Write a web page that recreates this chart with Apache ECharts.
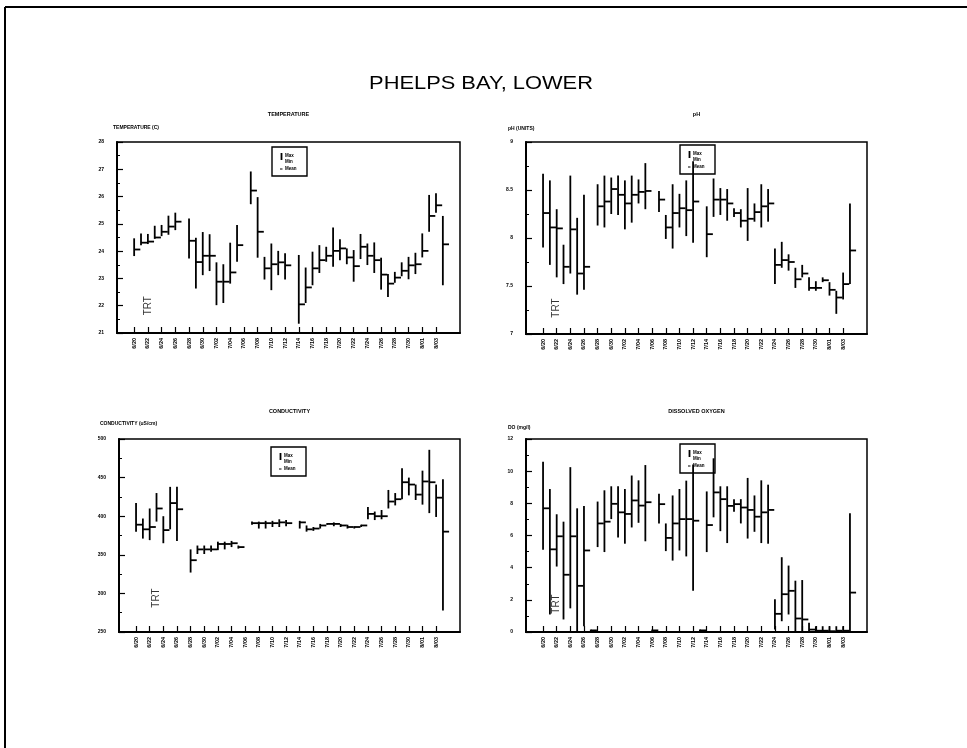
<!DOCTYPE html>
<html>
<head>
<meta charset="utf-8">
<script src="https://cdn.jsdelivr.net/npm/echarts@6/dist/echarts.min.js"></script>
<style>
  html, body { margin: 0; padding: 0; background: #fff; }
  #chart { width: 967px; height: 748px; }
</style>
</head>
<body>
<div id="chart"></div>
<script>
// Daily water-quality summaries (max / min / mean) at Phelps Bay, lower station.
const FONT = '"Liberation Sans", Arial, Helvetica, sans-serif';

// Sampling days, 6/20 through 8/04
const dates = [
  '6/20','6/21','6/22','6/23','6/24','6/25','6/26','6/27','6/28','6/29','6/30',
  '7/01','7/02','7/03','7/04','7/05','7/06','7/07','7/08','7/09','7/10','7/11',
  '7/12','7/13','7/14','7/15','7/16','7/17','7/18','7/19','7/20','7/21','7/22',
  '7/23','7/24','7/25','7/26','7/27','7/28','7/29','7/30','7/31','8/01','8/02',
  '8/03','8/04'
];

// Dates printed under each panel
const tickLabels = [
  '6/20','6/22','6/24','6/26','6/28','6/30','7/02','7/04','7/06','7/08','7/10',
  '7/12','7/14','7/16','7/18','7/20','7/22','7/24','7/26','7/28','7/30','8/01','8/03'
];

// Temperature (C)
const tempMax = [24.47,24.65,24.63,24.93,24.96,25.30,25.41,null,25.20,24.49,24.70,
  24.62,23.59,23.52,24.31,24.96,null,26.92,25.98,23.79,24.28,24.01,
  23.92,null,23.86,23.40,23.98,24.22,24.16,24.87,24.44,24.10,24.04,
  24.63,24.28,24.32,23.76,23.16,23.24,23.59,23.79,23.94,24.65,26.06,
  26.12,25.29];
const tempMin = [23.82,24.22,24.26,24.45,24.55,24.60,24.77,null,23.73,22.63,23.12,
  23.27,22.02,22.10,22.81,23.61,null,25.72,23.76,22.96,22.57,23.12,
  22.96,null,21.34,22.10,22.75,23.20,23.61,23.43,23.67,23.52,22.88,
  23.71,23.49,23.20,22.59,22.32,22.84,23.08,22.97,23.16,23.77,24.71,
  25.41,22.75];
const tempMean = [24.06,24.31,24.35,24.50,24.71,24.90,25.08,null,24.38,23.60,23.83,
  23.83,22.88,22.88,23.22,24.22,null,26.22,24.71,23.37,23.52,23.59,
  23.48,null,22.05,22.67,23.37,23.67,23.83,24.01,24.10,23.77,23.45,
  24.16,23.83,23.67,23.14,22.81,23.03,23.28,23.48,23.52,24.01,25.29,
  25.68,24.25];

// pH (units)
const phMax = [8.67,8.60,8.30,7.93,8.65,8.21,8.45,null,8.56,8.65,8.63,
  8.65,8.60,8.65,8.61,8.78,null,8.49,8.24,8.56,8.46,8.60,
  8.80,null,8.33,8.62,8.52,8.51,8.31,8.30,8.52,8.36,8.56,
  8.51,7.89,7.96,7.83,7.69,7.72,7.59,7.55,7.59,7.54,7.45,
  7.64,8.36];
const phMin = [7.90,7.72,7.59,7.52,7.63,7.41,7.46,null,8.13,8.11,8.25,
  8.24,8.09,8.16,8.36,8.30,null,8.27,7.99,7.89,8.11,8.02,
  7.95,null,7.80,8.22,8.24,8.18,8.22,8.11,7.97,8.17,8.11,
  8.17,7.52,7.69,7.66,7.48,7.59,7.45,7.45,7.54,7.40,7.21,
  7.36,7.52];
const phMean = [8.26,8.11,8.10,7.70,8.09,7.63,7.70,null,8.33,8.38,8.51,
  8.45,8.36,8.45,8.48,8.49,null,8.40,8.11,8.26,8.31,8.29,
  8.38,null,8.04,8.40,8.40,8.36,8.26,8.18,8.20,8.27,8.33,
  8.36,7.72,7.77,7.75,7.57,7.63,7.48,7.48,7.56,7.46,7.38,
  7.52,7.87];

// Conductivity (uS/cm)
const condMax = [417,397,410,430,400,438,438,null,357,362,362,
  362,367,367,368,362,null,393,393,394,394,396,
  395,null,394,388,386,390,391,392,390,389,387,
  389,412,406,408,434,430,462,450,441,459,486,
  441,448];
const condMin = [380,371,369,393,365,383,368,null,327,351,351,
  354,356,357,360,358,null,389,384,384,386,386,
  387,null,384,380,381,384,389,387,386,384,384,
  386,396,395,396,410,414,422,427,421,415,404,
  399,278];
const condMean = [389,383,386,410,382,417,409,null,343,357,357,
  357,364,364,365,360,null,391,391,391,391,392,
  391,null,392,383,384,388,390,390,388,386,386,
  388,403,400,400,419,422,444,441,428,445,444,
  424,380];

// Dissolved oxygen (mg/l)
const doMax = [10.59,8.89,7.32,6.86,10.25,7.69,7.84,0.15,8.11,8.81,9.06,
  9.06,8.89,9.73,9.43,10.38,0.15,8.60,6.75,8.49,8.89,9.41,
  10.42,0.15,8.74,10.80,9.06,9.06,8.26,8.26,9.58,8.49,9.43,
  9.16,2.03,4.65,4.13,3.19,3.23,0.57,0.36,0.36,0.36,0.36,
  0.36,7.38];
const doMin = [5.11,1.09,4.07,0.78,1.47,0.00,0.36,0.00,5.28,4.97,7.02,
  5.87,5.49,6.50,6.79,5.64,0.00,6.75,5.03,4.44,5.07,4.70,
  2.56,0.00,4.97,7.13,6.27,5.53,7.48,6.75,5.81,6.23,5.53,
  5.49,0.15,0.67,1.09,0.00,0.00,0.00,0.00,0.00,0.00,0.00,
  0.00,0.00];
const doMean = [7.69,5.14,5.95,3.56,5.95,2.87,5.07,0.10,6.75,6.86,7.97,
  7.44,7.34,8.18,7.86,8.07,0.10,7.95,5.85,6.75,7.02,7.02,
  6.92,0.10,6.65,8.68,8.26,7.84,7.95,7.74,7.59,7.17,7.44,
  7.59,1.13,2.35,2.56,0.84,0.78,0.15,0.08,0.08,0.05,0.08,
  0.08,2.45];

// Category axis: one slot per day, with two spare days on each side
const axisDays = [];
[[6, 18, 30], [7, 1, 31], [8, 1, 6]].forEach(([m, a, b]) => {
  for (let d = a; d <= b; d++) axisDays.push(m + '/' + String(d).padStart(2, '0'));
});
const tickSet = new Set(tickLabels);
const showTick = (idx, val) => tickSet.has(val);

function rows(hi, lo, mean) {
  const out = [];
  dates.forEach((d, i) => {
    if (hi[i] != null) out.push([d, hi[i], lo[i], mean[i]]);
  });
  return out;
}

// Vertical range bar from min to max with the mean as a tick to its right
function renderHiLo(params, api) {
  const x = api.value(0);
  const pHi = api.coord([x, api.value(1)]);
  const pLo = api.coord([x, api.value(2)]);
  const pMean = api.coord([x, api.value(3)]);
  const band = api.size([1, 0])[0];
  const st = { stroke: '#000', lineWidth: 1.8, lineCap: 'butt' };
  return {
    type: 'group',
    children: [
      { type: 'line', shape: { x1: pHi[0], y1: pHi[1], x2: pLo[0], y2: pLo[1] }, style: st },
      { type: 'line', shape: { x1: pMean[0], y1: pMean[1], x2: pMean[0] + band * 0.9, y2: pMean[1] }, style: st }
    ]
  };
}

const panels = [
  { left: 117, top: 142, width: 343, height: 191, min: 21, max: 28, step: 1,
    title: 'TEMPERATURE', yName: 'TEMPERATURE (C)', nameAt: [113, 128],
    hi: tempMax, lo: tempMin, mean: tempMean, trt: ['6/22', 22.0], legendAt: [272, 147] },
  { left: 526, top: 142, width: 341, height: 192, min: 7, max: 9, step: 0.5,
    title: 'pH', yName: 'pH (UNITS)', nameAt: [508, 129],
    hi: phMax, lo: phMin, mean: phMean, trt: ['6/22', 7.27], legendAt: [680, 145] },
  { left: 119, top: 439, width: 341, height: 193, min: 250, max: 500, step: 50,
    title: 'CONDUCTIVITY', yName: 'CONDUCTIVITY (uS/cm)', nameAt: [100, 424],
    hi: condMax, lo: condMin, mean: condMean, trt: ['6/23', 294], legendAt: [271, 447] },
  { left: 526, top: 439, width: 341, height: 193, min: 0, max: 12, step: 2,
    title: 'DISSOLVED OXYGEN', yName: 'DO (mg/l)', nameAt: [508, 428],
    hi: doMax, lo: doMin, mean: doMean, trt: ['6/22', 1.74], legendAt: [680, 444] }
];

const grid = [], xAxis = [], yAxis = [], series = [];
const graphic = [
  // page frame
  { type: 'line', shape: { x1: 5, y1: 7, x2: 967, y2: 7 }, style: { stroke: '#000', lineWidth: 2 } },
  { type: 'line', shape: { x1: 5, y1: 7, x2: 5, y2: 748 }, style: { stroke: '#000', lineWidth: 2 } },
  { type: 'text', x: 481, y: 84, scaleX: 1.15,
    style: { text: 'PHELPS BAY, LOWER', x: 0, y: 0, font: '19px ' + FONT, fill: '#000',
             textAlign: 'center', textVerticalAlign: 'middle', align: 'center', verticalAlign: 'middle' } }
];

function smallText(text, x, y, size, align) {
  return { type: 'text', x: x, y: y,
    style: { text: text, x: 0, y: 0, font: 'bold ' + size + 'px ' + FONT, fill: '#000',
             textAlign: align, textVerticalAlign: 'middle', align: align, verticalAlign: 'middle' } };
}

function legendBox(x, y) {
  return [
    { type: 'rect', shape: { x: x, y: y, width: 35, height: 29 }, style: { fill: '#fff', stroke: '#000', lineWidth: 1.4 } },
    { type: 'line', shape: { x1: x + 9.5, y1: y + 6, x2: x + 9.5, y2: y + 13 }, style: { stroke: '#000', lineWidth: 1.8 } },
    { type: 'line', shape: { x1: x + 8, y1: y + 22, x2: x + 10.5, y2: y + 22 }, style: { stroke: '#000', lineWidth: 1 } },
    smallText('Max', x + 13, y + 8.5, 4.5, 'left'),
    smallText('Min', x + 13, y + 15, 4.5, 'left'),
    smallText('Mean', x + 13, y + 22, 4.5, 'left')
  ];
}

panels.forEach((p, i) => {
  grid.push({ left: p.left, top: p.top, width: p.width, height: p.height,
              show: true, borderColor: '#000', borderWidth: 1.5, backgroundColor: 'transparent' });
  xAxis.push({
    gridIndex: i, type: 'category', data: axisDays, boundaryGap: true,
    axisLine: { show: true, onZero: false, lineStyle: { color: '#000', width: 2 } },
    axisTick: { show: true, inside: true, length: 6, alignWithLabel: true, interval: showTick,
                lineStyle: { color: '#000', width: 1.2 } },
    axisLabel: { show: true, interval: showTick, rotate: 90, margin: 5, color: '#000',
                 fontSize: 5.5, fontWeight: 'bold', fontFamily: FONT },
    splitLine: { show: false }
  });
  yAxis.push({
    gridIndex: i, type: 'value', min: p.min, max: p.max, interval: p.step,
    axisLine: { show: true, onZero: false, lineStyle: { color: '#000', width: 2 } },
    axisTick: { show: true, inside: true, length: 6, lineStyle: { color: '#000', width: 1.2 } },
    minorTick: { show: true, splitNumber: 2, length: 3, lineStyle: { color: '#000', width: 1 } },
    axisLabel: { color: '#000', fontSize: 5, fontWeight: 'bold', fontFamily: FONT, margin: 13 },
    splitLine: { show: false }
  });
  series.push({
    type: 'custom', name: p.title, xAxisIndex: i, yAxisIndex: i,
    renderItem: renderHiLo, data: rows(p.hi, p.lo, p.mean),
    encode: { x: 0, y: [1, 2, 3] }, silent: true
  });
  series.push({
    type: 'scatter', xAxisIndex: i, yAxisIndex: i, symbolSize: 0, silent: true,
    data: [p.trt],
    label: { show: true, position: 'inside', rotate: 90, formatter: 'TRT',
             fontSize: 10, fontFamily: FONT, color: '#000' }
  });
  graphic.push(smallText(p.title, p.left + p.width / 2, p.top - 28, 5.5, 'center'));
  graphic.push(smallText(p.yName, p.nameAt[0], p.nameAt[1], 5, 'left'));
  legendBox(p.legendAt[0], p.legendAt[1]).forEach(g => graphic.push(g));
});

const chart = echarts.init(document.getElementById('chart'), null, { renderer: 'canvas' });
chart.setOption({
  animation: false,
  backgroundColor: '#fff',
  grid: grid,
  xAxis: xAxis,
  yAxis: yAxis,
  series: series,
  graphic: { elements: graphic }
});
</script>
</body>
</html>
